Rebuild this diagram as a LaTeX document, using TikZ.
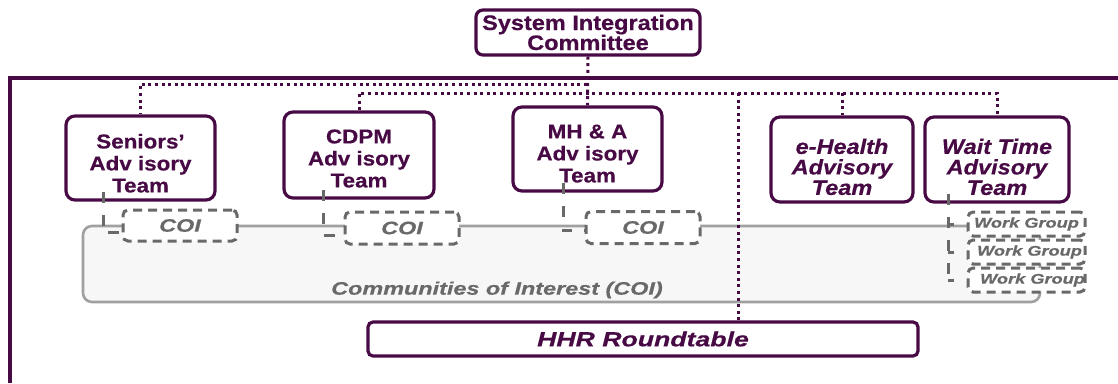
\documentclass[tikz,border=0pt]{standalone}
\usepackage{fontspec}
\setmainfont{Liberation Sans}[FakeStretch=1.12, BoldFeatures={FakeBold=0.5}, BoldItalicFeatures={FakeBold=0.5}]
\newfontfamily\widefont{Liberation Sans}[FakeStretch=1.3, BoldFeatures={FakeBold=0.5}, BoldItalicFeatures={FakeBold=0.5}]
\definecolor{plum}{RGB}{72,10,68}
\definecolor{dgrey}{RGB}{105,105,105}
\definecolor{lgrey}{RGB}{160,160,160}
\definecolor{regfill}{RGB}{247,247,247}
\begin{document}
\begin{tikzpicture}[x=1pt,y=-1pt,
  team/.style={draw=plum, line width=3.2pt, rounded corners=9pt, fill=white, align=center, text=plum,
    font=\bfseries\fontsize{20}{22}\selectfont, inner sep=0pt},
  iteam/.style={team, font=\bfseries\itshape\fontsize{21}{20.5}\selectfont},
  coibox/.style={draw=dgrey, line width=3pt, dash pattern=on 9pt off 6pt, rounded corners=5pt, fill=white,
    inner sep=0pt, text=dgrey, font=\widefont\bfseries\itshape\fontsize{18}{18}\selectfont},
  wgbox/.style={coibox, font=\widefont\bfseries\itshape\fontsize{14}{14}\selectfont},
  dots/.style={draw=plum, line width=3pt, dash pattern=on 3pt off 3.6pt},
  gdash/.style={draw=dgrey, line width=3pt, dash pattern=on 11pt off 12pt},
  tick/.style={draw=dgrey, line width=3pt, dash pattern=on 6pt off 30pt},
]
\useasboundingbox (0,0) rectangle (1118,383);

% outer frame
\draw[plum, line width=3.4pt] (10,383) -- (10,78) -- (1118,78);

% communities of interest region
\node[draw=lgrey, fill=regfill, line width=2.6pt, rounded corners=9pt, minimum width=957pt, minimum height=76pt, inner sep=0pt] (region) at (561.5,264) {};
\node[text=dgrey, font=\widefont\bfseries\itshape\fontsize{18}{18}\selectfont] (coilabel) at (497,290) {Communities of Interest (COI)};

% COI boxes
\node[coibox, minimum width=114pt, minimum height=31pt] (coi1) at (180,225.5) {COI};
\node[coibox, minimum width=114pt, minimum height=32pt] (coi2) at (402,228) {COI};
\node[coibox, minimum width=114pt, minimum height=32pt] (coi3) at (643,227.5) {COI};

% work groups
\node[wgbox, minimum width=117pt, minimum height=24pt] (wg1) at (1026.5,224) {Work Group};
\node[wgbox, minimum width=117pt, minimum height=24pt] (wg2) at (1026.5,252) {\hspace*{6pt}Work Group};
\node[wgbox, minimum width=117pt, minimum height=24pt] (wg3) at (1026.5,280) {\hspace*{12pt}Work Group};

% team boxes
\node[team, minimum width=149pt, minimum height=84pt] (sen) at (140.5,158) {\rule{0pt}{25pt}Seniors'\\Adv isory\\Team};
\node[team, minimum width=150pt, minimum height=86pt] (cdpm) at (359,155) {\rule{0pt}{21pt}CDPM\\Adv isory\\Team};
\node[team, minimum width=149pt, minimum height=84pt] (mha) at (587.5,149) {\rule{0pt}{23pt}MH \& A\\Adv isory\\Team};
\node[iteam, minimum width=142pt, minimum height=85pt] (ehealth) at (842,159.5) {\rule{0pt}{30pt}e-Health\\Advisory\\Team};
\node[iteam, minimum width=144pt, minimum height=85pt] (wait) at (997,159.5) {\rule{0pt}{30pt}Wait Time\\Advisory\\Team};

% system integration committee
\node[team, rounded corners=7pt, font=\bfseries\fontsize{21}{20}\selectfont, minimum width=224pt, minimum height=45pt] (sic) at (588,32.5) {System Integration\\Committee};

% HHR roundtable
\node[draw=plum, line width=3.2pt, rounded corners=5pt, fill=white, text=plum, inner sep=0pt,
  font=\widefont\bfseries\itshape\fontsize{20.5}{20}\selectfont, minimum width=550pt, minimum height=34pt] (hhr) at (643,339) {HHR Roundtable};

% dotted reporting lines
\coordinate (h1) at (587,84);
\coordinate (h2) at (587,93);
\coordinate (hh) at (738,93);
\draw[dots] (sic.south) -- (mha.north);
\draw[dots] (h1) -- (sen.north |- h1) -- (sen.north);
\draw[dots] (cdpm.north) -- (cdpm.north |- h2) -- (wait.north |- h2) -- (wait.north);
\draw[dots] (ehealth.north |- h2) -- (ehealth.north);
\draw[dots] (hh) -- (hh |- hhr.north);

% grey dashed links to COI and work groups
\draw[gdash] ([xshift=-37.5pt,yshift=10pt]sen.south) |- ([yshift=-7pt]coi1.west);
\draw[gdash] ([xshift=-36pt,yshift=10pt]cdpm.south) |- ([yshift=-7pt]coi2.west);
\draw[gdash] ([xshift=-24.5pt,yshift=10pt]mha.south) |- ([yshift=-3pt]coi3.west);
\coordinate (wt) at ([xshift=-49pt,yshift=10pt]wait.south);
\draw[gdash] (wt) -- (wt |- wg3.west);
\draw[tick] (wt |- wg1.west) -- (wg1.west);
\draw[tick] (wt |- wg2.west) -- (wg2.west);
\draw[tick] (wt |- wg3.west) -- (wg3.west);
\end{tikzpicture}
\end{document}
